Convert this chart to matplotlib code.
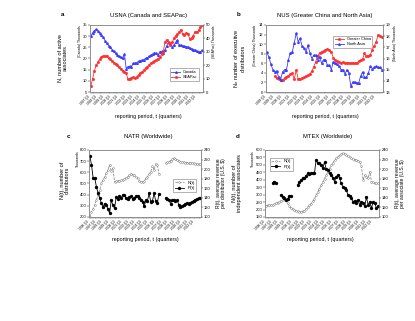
import numpy as np
import matplotlib
matplotlib.use("Agg")
import matplotlib.pyplot as plt

plt.rcParams['font.family'] = ['Liberation Sans', 'DejaVu Sans']

nan = np.nan

# --- panel a: USNA ---
usna_canada = [30, 31.5, 32.5, 33, 32.3, 31.5, 30.5, 29.5, 28, 26.8,
               25.8, 25, 24, 23.2, 22.3, 21.6, 21, 20.5, 20, 22,
               15.5, 16.4, 16.5, 16.4, 17.8, 18, 18.2, 18.8, 19, 19.3,
               19.5, 20.1, 20.3, 21, 21.6, 22, 22.6, 22.3, 21.5, 23,
               23.2, 22.5, 24, 25.8, 27.5, 26.5, 25.3, 26, 27.2, 28.3,
               26, 26, 25.5, 25.5, 25.3, 25.3, 24.6, 24.3, 24, 23.8,
               23.2, 23, 23, 23.6]
usna_seapac = [4.5, 10, 16, 20, 22.5, 24.5, 26, 26.5, 27, 26.5,
               25.5, 24.5, 23, 22, 21, 20, 18.5, 17, 16, 15,
               14, 9.5, 10, 10.5, 11, 10.5, 11.5, 13, 14, 15,
               16.5, 18, 19, 20.5, 21.5, 22.5, 23, 24, 25, 26,
               28, 30, 37.5, 39, 36.5, 35, 37, 40, 42, 43,
               45, 46.5, 43, 42.5, 44, 43.5, 39.5, 40.5, 42, 45,
               44.5, 46, 48.5, 50]

# --- panel b: NUS ---
nus_north_asia = [16.55, 16.1, 15.5, 15.0, 14.8, 14.9, 14.3, 14.1, 14.8, 15.0,
                  15.0, 15.9, 16.5, 16.6, 17.4, 18.3, 17.5, 17.8, 17.1, 16.9,
                  16.6, 17.2, 16.5, 16.0, 16.3, 16.3, 15.9, 16.1, 15.6, 15.9,
                  15.9, 15.4, 15.4, 15.0, 15.7, 15.6, 15.5, 15.3, 15.0, 15.0,
                  14.6, 15.0, 14.7, 13.5, 13.9, 13.9, 13.8, 13.8, 14.4, 14.8,
                  14.3, 14.3, 14.7, 15.3, 15.1, 15.2, 15.3, 15.2, 15.2, 15.0]
nus_china = [nan, nan, nan, nan, 3.3, 2.9, 2.7, 2.6, 2.5, 2.9,
             3.2, 3.4, 3.7, 3.9, 2.7, 4.6, 2.7, 2.8, 2.9, 3.1,
             3.3, 3.5, 3.8, 4.3, 5.3, 6.3, 7.5, 8.2, 8.4, 8.6,
             8.8, 8.9, 8.8, 8.3, 7.2, 6.6, 6.4, 6.2, 6.1, 6.2,
             6.1, 6.1, 6.1, 6.0, 6.1, 6.0, 6.0, 6.4, 6.7, 6.8,
             8.1, 7.5, 7.6, 7.8, 8.8, 9.6, 10.5, 11.9, 11.7, 11.5]

# --- panel c: NATR ---
natr_n = [202, 247, 275, 310, 352, 397, 442, 501, 531, 560,
          591, 621, 666, 615, 636, 516, 518, 522, 525, 528,
          531, 540, 552, 561, 575, 585, 580, 576, 560, 546,
          525, 511, 515, 522, 545, 561, 585, 606, 657, 621,
          675, 666, 585, nan, nan, nan, 681, 690, 696, 705,
          716, 725, 718, 710, 703, 696, 693, 690, 688, 687,
          687, 685, 683, 681, 678, 675, 673, 672]
natr_r = [228, 209, 182, 181, 163, 150, 140, 129, 121, 128,
          125, 117, 108, 135, 125, 118, 142, 138, 143, 140,
          146, 145, 140, 138, 141, 143, 138, 140, 143, 144,
          140, 136, 132, 122, 135, 134, 150, 131, 133, 150,
          133, 129, 149, nan, nan, nan, 139, 137, 136, 128,
          135, 136, 133, 135, 126, 121, 123, 125, 127, 129,
          128, 130, 132, 134, 136, 138, 139, 140]

# --- panel d: MTEX ---
mtex_n = [224, 228, 231, 229, 231, 236, 242, 247, 253, 258,
          264, 268, 271, 242, 222, 210, 204, 198, 192, 187,
          185, 185, 187, 193, 205, 217, 228, 240, 255, 272,
          295, 318, 340, 363, 385, 408, 430, 452, 475, 497,
          515, 532, 545, 555, 565, 573, 578, 574, 566, 558,
          551, 544, 537, 535, 533, 528, 522, 490, 399, 432,
          421, 410, 454, 387, 382, 376, 376, 376]
mtex_r = [nan, nan, nan, nan, 171, 174, 172, nan, nan, 146,
          142, 139, 136, 138, 144, 143, nan, nan, nan, 167,
          174, 177, 181, 181, 186, 191, 190, 191, 191, 191,
          220, 212, 212, 208, 202, 215, 200, 198, 191, 188,
          181, 174, 184, 188, 181, 170, 163, 160, 156, 146,
          143, 139, 132, 134, 129, 135, 125, 132, 129, 122,
          142, 125, 132, 118, 132, 129, 118, 122]


def quarters(start_year, n):
    return ["%d Q%d" % (start_year + i // 4, i % 4 + 1) for i in range(n)]


W, H = 415, 321


def box(l, r, t, b):
    return [l / W, 1 - b / H, (r - l) / W, (b - t) / H]


def style(ax, labels):
    n = len(labels)
    ax.set_xlim(-0.5, n - 0.5)
    ax.set_xticks(range(n))
    ax.set_xticklabels([lab if i % 4 == 0 else "" for i, lab in enumerate(labels)],
                       rotation=45, ha='right', fontsize=2.3)
    ax.tick_params(axis='x', length=1.2, width=0.3, pad=0.5, color='#555555')
    ax.tick_params(axis='y', length=1.2, width=0.3, pad=0.8, labelsize=3)
    for s in ax.spines.values():
        s.set_linewidth(0.5)
        s.set_color('#888888')


fig = plt.figure(figsize=(W / 100, H / 100), dpi=100)

# ---------- a ----------
ax = fig.add_axes(box(90, 203, 25, 92))
x = np.arange(len(usna_canada))
l1, = ax.plot(x, usna_canada, color='#3a3aff', lw=0.6, marker='^', ms=1.2, label='Canada')
ax.set_ylim(5, 35)
ax.set_yticks(range(5, 36, 5))
style(ax, quarters(1997, len(x)))
ax2 = ax.twinx()
l2, = ax2.plot(x, usna_seapac, color='#ff3030', lw=0.6, marker='s', ms=1.0, label='SEAPac')
ax2.set_ylim(0, 50)
ax2.set_yticks(range(0, 51, 10))
style(ax2, quarters(1997, len(x)))
ax.set_ylabel("N, number of active\nassociates", fontsize=4, linespacing=1.0)
ax.yaxis.set_label_coords(-0.2, 0.5)
ax.text(-0.085, 1.0, "(Canada) Thousands", transform=ax.transAxes, rotation=90,
        fontsize=2.4, va='top', ha='center')
ax2.text(1.1, 1.0, "(SEAPac) Thousands", transform=ax2.transAxes, rotation=90,
         fontsize=2.4, va='top', ha='center')
ax.legend([l1, l2], ['Canada', 'SEAPac'], loc='lower left', bbox_to_anchor=(0.69, 0.14),
          fontsize=2.8, frameon=True, fancybox=False, edgecolor='#555555',
          handlelength=2.2, borderpad=0.4, labelspacing=0.3).get_frame().set_linewidth(0.4)

# ---------- b ----------
ax = fig.add_axes(box(266, 383, 25, 92))
x = np.arange(len(nus_north_asia))
l1, = ax.plot(x, nus_china, color='#ff3030', lw=0.6, marker='s', ms=1.0)
ax.set_ylim(0, 14)
ax.set_yticks(range(0, 15, 2))
style(ax, quarters(1998, len(x)))
ax2 = ax.twinx()
l2, = ax2.plot(x, nus_north_asia, color='#3a3aff', lw=0.6, marker='^', ms=1.2)
ax2.set_ylim(13, 19)
ax2.set_yticks(range(13, 20))
style(ax2, quarters(1998, len(x)))
ax.set_ylabel("N$_e$ number of executive\ndistributors", fontsize=4, linespacing=1.0)
ax.yaxis.set_label_coords(-0.17, 0.5)
ax.text(-0.09, 1.0, "(Greater China) Thousands", transform=ax.transAxes, rotation=90,
        fontsize=2.4, va='top', ha='center')
ax2.text(1.1, 1.0, "(North Asia) Thousands", transform=ax2.transAxes, rotation=90,
         fontsize=2.4, va='top', ha='center')
ax.legend([l1, l2], ['Greater China', 'North Asia'], loc='upper left', bbox_to_anchor=(0.56, 0.87),
          fontsize=2.8, frameon=True, fancybox=False, edgecolor='#555555',
          handlelength=2.2, borderpad=0.4, labelspacing=0.3).get_frame().set_linewidth(0.4)

# ---------- c ----------
ax = fig.add_axes(box(89, 201, 150, 217))
x = np.arange(len(natr_n))
l1, = ax.plot(x, natr_n, color='#777777', lw=0.5, ls='--', marker='o', ms=1.3,
              mfc='white', mec='#666666', mew=0.3)
ax.set_ylim(200, 800)
ax.set_yticks(range(200, 801, 100))
style(ax, quarters(1996, len(x)))
ax2 = ax.twinx()
l2, = ax2.plot(x, natr_r, color='black', lw=0.6, marker='o', ms=1.4)
ax2.set_ylim(100, 240)
ax2.set_yticks(range(100, 241, 20))
style(ax2, quarters(1996, len(x)))
ax.set_ylabel("N(t), number of\ndistributors", fontsize=4, linespacing=1.0)
ax.yaxis.set_label_coords(-0.17, 0.55)
ax.text(-0.1, 1.0, "Thousands", transform=ax.transAxes, rotation=90,
        fontsize=2.4, va='top', ha='center')
ax2.set_ylabel("R(t), average revenue\nper distributor (U.S. $)", fontsize=3.6, linespacing=1.0)
ax2.yaxis.set_label_coords(1.13, 0.5)
ax.legend([l1, l2], ['N(t)', 'R(t)'], loc='upper left', bbox_to_anchor=(0.73, 0.6),
          fontsize=3.2, frameon=True, fancybox=False, edgecolor='#555555',
          handlelength=2.0, borderpad=0.4, labelspacing=0.3).get_frame().set_linewidth(0.4)

# ---------- d ----------
ax = fig.add_axes(box(265, 379, 150, 217))
x = np.arange(len(mtex_n))
l1, = ax.plot(x, mtex_n, color='#777777', lw=0.5, ls='--', marker='o', ms=1.3,
              mfc='white', mec='#666666', mew=0.3)
ax.set_ylim(150, 600)
ax.set_yticks(range(150, 601, 50))
style(ax, quarters(1996, len(x)))
ax2 = ax.twinx()
l2, = ax2.plot(x, mtex_r, color='black', lw=0.6, marker='o', ms=1.4)
ax2.set_ylim(100, 240)
ax2.set_yticks(range(100, 241, 20))
style(ax2, quarters(1996, len(x)))
ax.set_ylabel("N(t), number of\nindependent associates", fontsize=4, linespacing=1.0)
ax.yaxis.set_label_coords(-0.2, 0.5)
ax.text(-0.11, 1.0, "Thousands", transform=ax.transAxes, rotation=90,
        fontsize=2.4, va='top', ha='center')
ax2.set_ylabel("R(t), average revenue\nper associate (U.S. $)", fontsize=3.6, linespacing=1.0)
ax2.yaxis.set_label_coords(1.14, 0.5)
ax.legend([l1, l2], ['N(t)', 'R(t)'], loc='upper left', bbox_to_anchor=(0.02, 0.92),
          fontsize=3.2, frameon=True, fancybox=False, edgecolor='#555555',
          handlelength=2.0, borderpad=0.4, labelspacing=0.3).get_frame().set_linewidth(0.4)

# titles, panel letters, x labels
for px, py, letter, tx, title in [(63, 15, 'a', 148, 'USNA (Canada and SEAPac)'),
                                   (239, 15, 'b', 325, 'NUS (Greater China and North Asia)'),
                                   (68, 136, 'c', 148, 'NATR (Worldwide)'),
                                   (238, 136, 'd', 328, 'MTEX (Worldwide)')]:
    fig.text(px / W, 1 - py / H, letter, fontsize=4.5, fontweight='bold', ha='center', va='center')
    fig.text(tx / W, 1 - py / H, title, fontsize=4.2, ha='center', va='center')

for cx, cy in [(148, 117), (325, 117), (145, 240), (320, 240)]:
    fig.text(cx / W, 1 - cy / H, "reporting period, t (quarters)", fontsize=3.8,
             ha='center', va='center')

fig.savefig("out.png", dpi=100)
